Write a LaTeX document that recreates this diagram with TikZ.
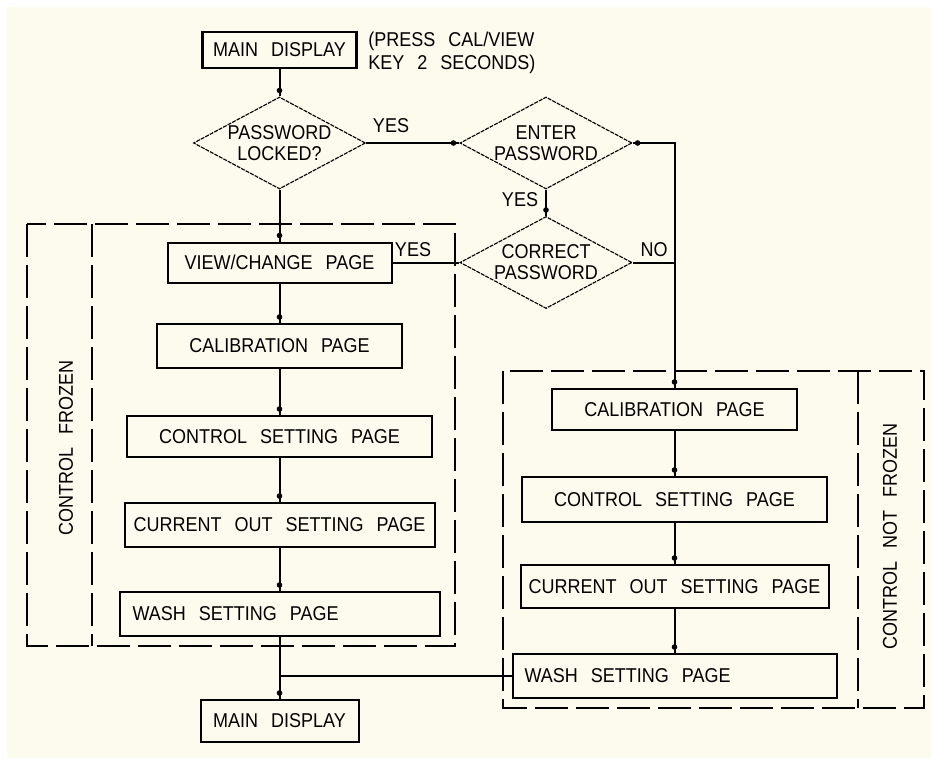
\documentclass[tikz,border=0pt]{standalone}
\usepackage{fontspec}
\setmainfont[FakeStretch=0.9,WordSpace=2.6]{Liberation Sans}
\usetikzlibrary{shapes.geometric,calc}
\definecolor{cream}{RGB}{253,251,238}
\newcommand\dotup[1]{\fill ($(#1)+(0,-6)$) circle (2.1pt);}
\tikzset{
  box/.style={draw, line width=1.5pt, inner sep=0pt, font=\fontsize{15}{18}\selectfont},
  dia/.style={diamond, draw, line width=0.85pt, dash pattern=on 3pt off 0.8pt, inner sep=0pt,
    aspect=1.87, minimum width=129pt, minimum height=69pt, align=center,
    font=\fontsize{15}{15.75}\selectfont},
  conn/.style={line width=1.5pt},
  frame/.style={line width=1.5pt, dash pattern=on 24.75pt off 6pt},
  lbl/.style={font=\fontsize{15}{18}\selectfont, inner sep=0pt},
}
\begin{document}
\begin{tikzpicture}[x=0.75pt,y=-0.75pt]
\useasboundingbox (0,0) rectangle (931,758);
\fill[cream] (7,7) rectangle (931,758);
% dashed frames
\draw[frame] (27,224) rectangle (455,646);
\draw[frame] (92,224) -- (92,646);
\draw[frame] (503,371) rectangle (924,708);
\draw[frame] (858,371) -- (858,708);
\node[lbl, rotate=90] (cf) at (66,448) {CONTROL FROZEN};
\node[lbl, rotate=90] (cnf) at (890,536) {CONTROL NOT FROZEN};
% top part
\node[box, line width=1.7pt, minimum width=115.5pt, minimum height=27pt] (mdtop) at (279.5,50) {MAIN DISPLAY};
\node[lbl, anchor=north west, align=left, font=\fontsize{15}{17.25}\selectfont] (press) at (368,32) {(PRESS CAL/VIEW\\KEY 2 SECONDS)};
\node[dia] (d1) at (279.5,143) {PASSWORD\\LOCKED?};
\node[dia] (d2) at (546,143) {ENTER\\PASSWORD};
\node[dia] (d3) at (546,262.5) {CORRECT\\PASSWORD};
% left column
\node[box, minimum width=168pt, minimum height=30pt] (view) at (279.5,262.5) {VIEW/CHANGE PAGE};
\node[box, minimum width=183.75pt, minimum height=33pt] (cal) at (279.5,346) {CALIBRATION PAGE};
\node[box, minimum width=228.75pt, minimum height=30.75pt] (ctrl) at (279.5,436.5) {CONTROL SETTING PAGE};
\node[box, minimum width=232.5pt, minimum height=33pt] (cur) at (279.5,525) {CURRENT OUT SETTING PAGE};
\node[box, inner xsep=9.75pt, minimum height=33pt] (wash) at (279.5,614) {\makebox[220.5pt][l]{WASH SETTING PAGE}};
\node[box, minimum width=118.5pt, minimum height=31.5pt] (mdbot) at (279.5,721) {MAIN DISPLAY};
% right column
\node[box, minimum width=183.75pt, minimum height=30.75pt] (rcal) at (674.5,409.5) {CALIBRATION PAGE};
\node[box, minimum width=228.75pt, minimum height=33.75pt] (rctrl) at (674.5,499.5) {CONTROL SETTING PAGE};
\node[box, minimum width=231pt, minimum height=32.25pt] (rcur) at (674.5,586.5) {CURRENT OUT SETTING PAGE};
\node[box, inner xsep=9pt, minimum height=33pt] (rwash) at (674.5,676) {\makebox[225pt][l]{WASH SETTING PAGE}};
% labels
\node[lbl] (yes1) at (391,126) {YES};
\node[lbl] (yes2) at (520,200) {YES};
\node[lbl] (yes3) at (413,250) {YES};
\node[lbl] (no1) at (654,250) {NO};
% connectors
\draw[conn] (mdtop) -- (d1);
\draw[conn] (d1) -- (d2);
\draw[conn] (d2) -- (d3);
\draw[conn] (d2.east) -| (rcal.north);
\draw[conn] (d3.east) -- (d3.east -| rcal.north);
\draw[conn] (d3) -- (view);
\draw[conn] (d1) -- (view);
\draw[conn] (view) -- (cal);
\draw[conn] (cal) -- (ctrl);
\draw[conn] (ctrl) -- (cur);
\draw[conn] (cur) -- (wash);
\draw[conn] (wash) -- (mdbot);
\draw[conn] (rcal) -- (rctrl);
\draw[conn] (rctrl) -- (rcur);
\draw[conn] (rcur) -- (rwash);
\draw[conn] (rwash.west) -- (rwash.west -| wash.south);
% dots
\dotup{d1.north}
\dotup{view.north}
\dotup{cal.north}
\dotup{ctrl.north}
\dotup{cur.north}
\dotup{wash.north}
\dotup{mdbot.north}
\dotup{d3.north}
\dotup{rcal.north}
\dotup{rctrl.north}
\dotup{rcur.north}
\dotup{rwash.north}
\fill ($(d2.west)+(-6,0)$) circle (2.1pt);
\fill ($(d2.east)+(5,0)$) circle (2.1pt);
\end{tikzpicture}
\end{document}
